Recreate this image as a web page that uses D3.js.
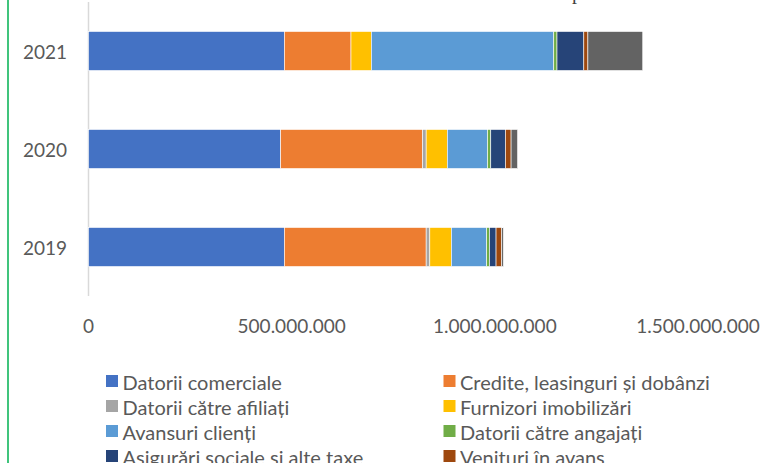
<!DOCTYPE html>
<head>
  <meta charset="utf-8">
  <script src="https://cdn.jsdelivr.net/npm/d3@7"></script>
  <style>
    body { margin:0; background:#fff; }
    text { font-family: Lato, "Open Sans", sans-serif; fill:#595959; }
  </style>
</head>
<body>
<script>
var width = 764, height = 463;

// ani (de sus in jos, ca in grafic)
var years = ["2021", "2020", "2019"];

// serii (lei)
var seriesNames = [
  "Datorii comerciale",
  "Credite, leasinguri și dobânzi",
  "Datorii către afiliați",
  "Furnizori imobilizări",
  "Avansuri clienți",
  "Datorii către angajați",
  "Asigurări sociale si alte taxe",
  "Venituri în avans",
  "Alte datorii"
];
var datoriiComerciale = [482e6, 473e6, 482e6];
var credite           = [164e6, 349e6, 349e6];
var afiliati          = [0,     9e6,   9e6];
var furnizoriImob     = [50e6,  52e6,  53e6];
var avansuriClienti   = [449e6, 99e6,  87e6];
var angajati          = [8e6,   8e6,   7e6];
var asigurari         = [66e6,  36e6,  16e6];
var venituriAvans     = [10e6,  14e6,  14e6];
var alteDatorii       = [135e6, 16e6,  4e6];

var tickValues = [0, 500e6, 1000e6, 1500e6];
var tickLabels = ["0", "500.000.000", "1.000.000.000", "1.500.000.000"];

var colors = ["#4472C4", "#ED7D31", "#A5A5A5", "#FFC000", "#5B9BD5",
              "#70AD47", "#264478", "#9E480E", "#636363"];

var allSeries = [datoriiComerciale, credite, afiliati, furnizoriImob, avansuriClienti,
                 angajati, asigurari, venituriAvans, alteDatorii];

// tabel pentru d3.stack
var rows = years.map(function(y, i) {
  var r = { year: y };
  seriesNames.forEach(function(n, k) { r[n] = allSeries[k][i]; });
  return r;
});

var svg = d3.select("body").append("svg")
  .attr("width", width).attr("height", height);

var x = d3.scaleLinear().domain([0, 1500e6]).range([88.5, 698]);
var y = d3.scaleBand().domain(years).range([2, 296])
  .paddingInner(0.602).paddingOuter(0.301);

var stacked = d3.stack().keys(seriesNames)(rows);

// linia verde din stanga
svg.append("line")
  .attr("x1", 8).attr("x2", 8).attr("y1", 0).attr("y2", height)
  .attr("stroke", "#00B050").attr("stroke-width", 1.5);

// fragment de titlu taiat sus
svg.append("text")
  .attr("x", 572).attr("y", -1)
  .style("font-family", "'Liberation Serif', serif")
  .style("font-size", "20px")
  .style("fill", "#404040")
  .text("p");

// axa verticala
svg.append("line")
  .attr("x1", x(0)).attr("x2", x(0)).attr("y1", 2).attr("y2", 296)
  .attr("stroke", "#d9d9d9").attr("stroke-width", 1.5);

svg.selectAll("g.serie").data(stacked).enter().append("g")
  .attr("class", "serie")
  .attr("fill", function(d, i) { return colors[i]; })
  .selectAll("rect").data(function(d) { return d; }).enter().append("rect")
  .attr("x", function(d) { return x(d[0]); })
  .attr("y", function(d) { return y(d.data.year); })
  .attr("width", function(d) { return x(d[1]) - x(d[0]); })
  .attr("height", y.bandwidth())
  .attr("stroke", "#fff").attr("stroke-width", 0.6);

// etichete ani
svg.selectAll("text.year").data(years).enter().append("text")
  .attr("class", "year")
  .attr("x", 67)
  .attr("y", function(d) { return y(d) + y.bandwidth() / 2; })
  .attr("text-anchor", "end")
  .attr("dominant-baseline", "central")
  .style("font-size", "19px")
  .text(function(d) { return d; });

// etichete axa x
svg.selectAll("text.tick").data(tickValues).enter().append("text")
  .attr("class", "tick")
  .attr("x", function(d) { return x(d); })
  .attr("y", 325)
  .attr("text-anchor", "middle")
  .attr("dominant-baseline", "central")
  .style("font-size", "19px")
  .text(function(d, i) { return tickLabels[i]; });

// legenda pe doua coloane
var legend = svg.selectAll("g.leg").data(seriesNames).enter().append("g")
  .attr("class", "leg")
  .attr("transform", function(d, i) {
    var col = i % 2, row = Math.floor(i / 2);
    return "translate(" + (col ? 443.5 : 106) + "," + (381 + row * 25) + ")";
  });
legend.append("rect")
  .attr("x", 0).attr("y", -6).attr("width", 12).attr("height", 12)
  .attr("fill", function(d, i) { return colors[i]; });
legend.append("text")
  .attr("x", 16.5).attr("y", 0.5)
  .attr("dominant-baseline", "central")
  .style("font-size", "20px")
  .text(function(d) { return d; });
</script>
</body>
